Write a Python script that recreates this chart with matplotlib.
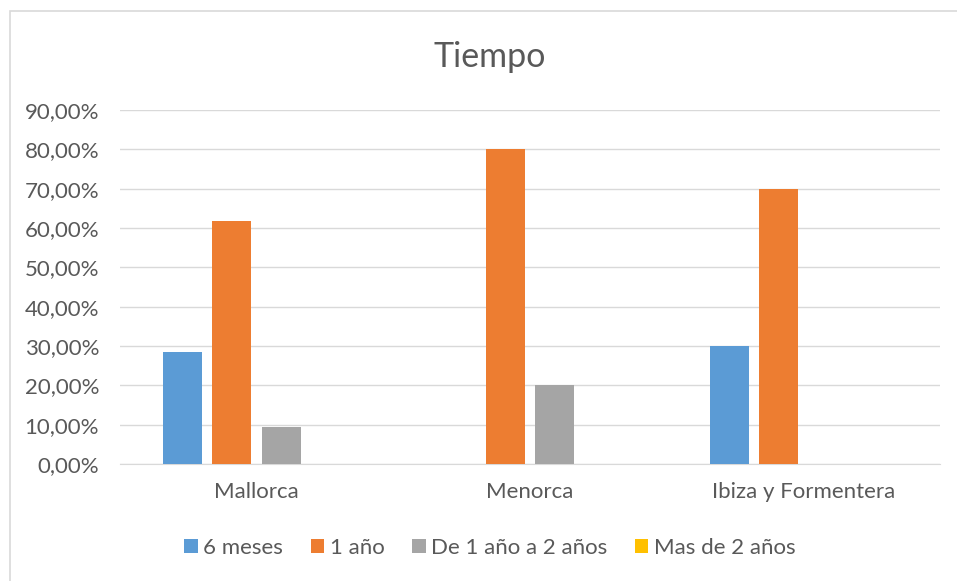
import matplotlib.pyplot as plt
import numpy as np
from matplotlib.patches import Patch, Rectangle
from matplotlib.ticker import FuncFormatter

# islands and time-of-stay shares
islands = ["Mallorca", "Menorca", "Ibiza y Formentera"]
series_names = ["6 meses", "1 año", "De 1 año a 2 años", "Mas de 2 años"]
seis_meses = [0.2857, 0.0, 0.30]
un_ano = [0.6190, 0.80, 0.70]
uno_a_dos = [0.0952, 0.20, 0.0]
mas_de_dos = [0.0, 0.0, 0.0]

colors = ["#5b9bd5", "#ed7d31", "#a5a5a5", "#ffc000"]
text_color = "#595959"
grid_color = "#d9d9d9"

plt.rcParams["font.family"] = ["Lato", "DejaVu Sans"]

fig = plt.figure(figsize=(9.57, 5.81), dpi=100)
ax = fig.add_axes([0.1254, 0.2014, 0.8568, 0.6093])

# outer chart frame (runs off the right and bottom edges)
fig.patches.append(Rectangle((0.0100, -0.05), 1.05, 1.031, transform=fig.transFigure,
                             fill=False, edgecolor=grid_color, linewidth=1.2))

x = np.arange(len(islands))
slot = 0.181
width = 0.143
all_series = [seis_meses, un_ano, uno_a_dos, mas_de_dos]
for i, (vals, col) in enumerate(zip(all_series, colors)):
    offset = (i - 1.5) * slot
    ax.bar(x + offset, vals, width=width, color=col, zorder=3)

ax.set_xlim(-0.5, 2.5)
ax.set_ylim(0, 0.9)
ax.set_yticks(np.arange(0, 0.91, 0.1))
ax.yaxis.set_major_formatter(FuncFormatter(lambda v, _: f"{v * 100:.2f}%".replace(".", ",")))
ax.set_xticks(x)
ax.set_xticklabels(islands)

ax.grid(axis="y", color=grid_color, linewidth=1, zorder=0)
for side in ["top", "right", "left"]:
    ax.spines[side].set_visible(False)
ax.spines["bottom"].set_color(grid_color)
ax.tick_params(axis="both", length=0, labelsize=16, colors=text_color)
ax.tick_params(axis="y", pad=15)
ax.tick_params(axis="x", pad=13)

fig.text(0.512, 0.902, "Tiempo", ha="center", va="center", fontsize=24.5, color=text_color)

handles = [Patch(facecolor=c, edgecolor="none") for c in colors]
fig.legend(handles, series_names, loc="center", bbox_to_anchor=(0.512, 0.057), ncol=4,
           frameon=False, fontsize=16, handlelength=0.6, handleheight=0.6,
           handletextpad=0.25, columnspacing=1.25, labelcolor=text_color)

fig.savefig("out.png", dpi=100)
